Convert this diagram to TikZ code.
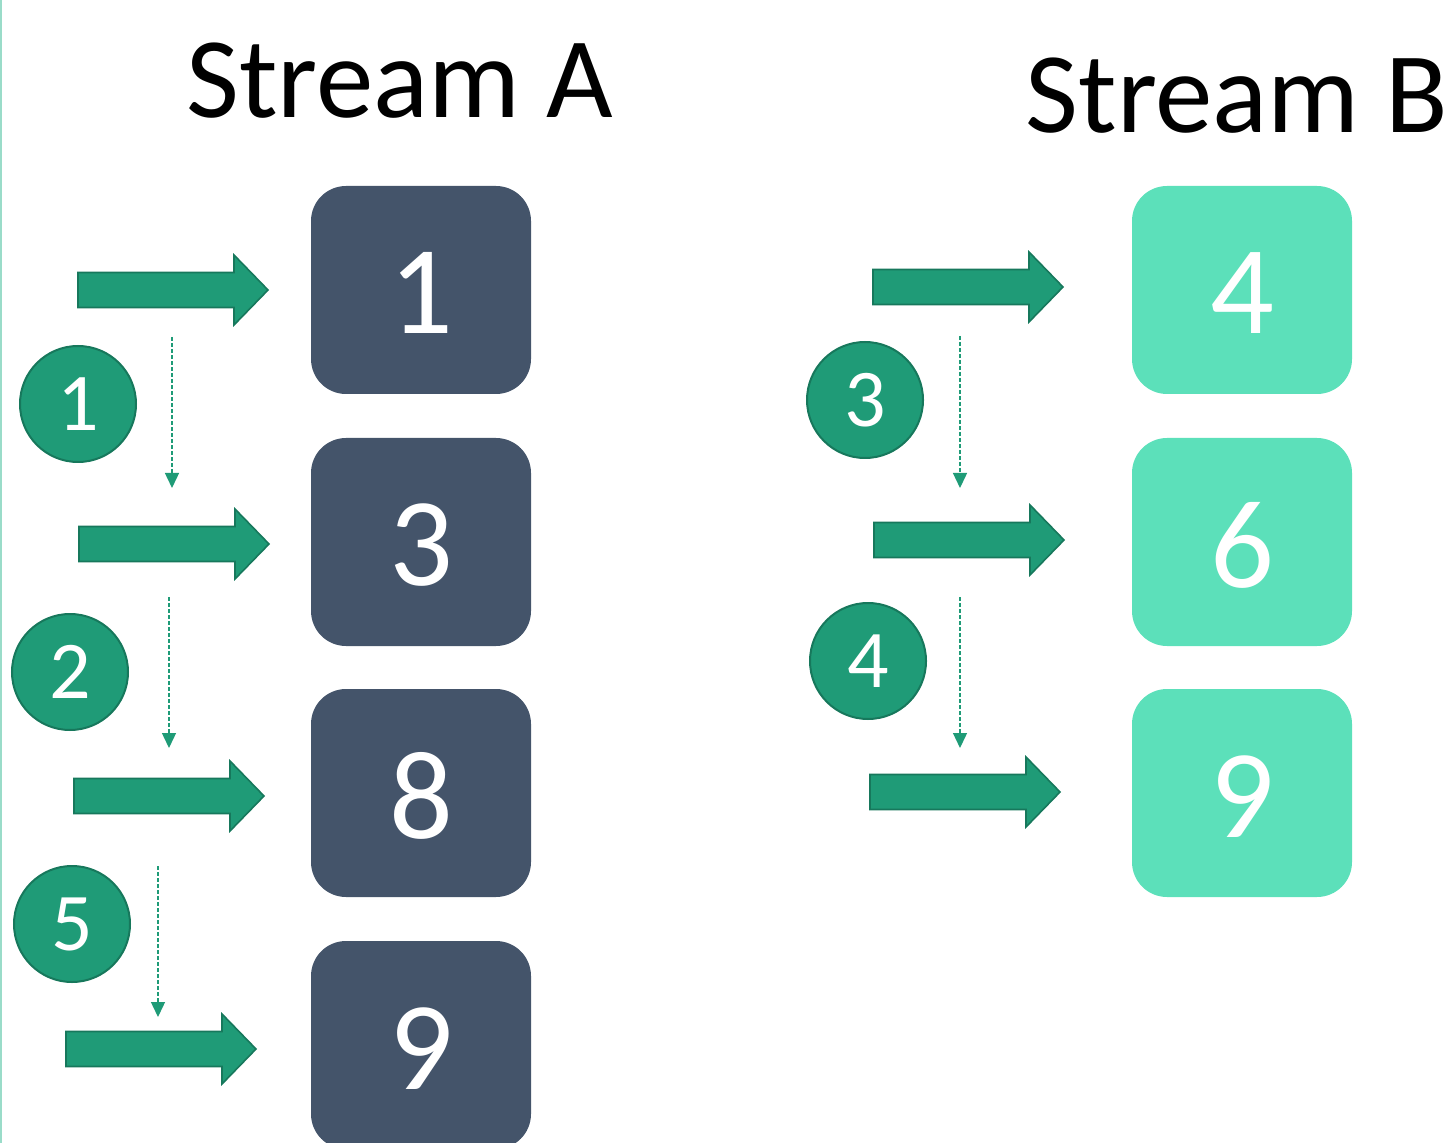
\documentclass[tikz,border=0pt]{standalone}
\usepackage{fontspec}
\setmainfont{Carlito}
\usetikzlibrary{arrows.meta}
\definecolor{slate}{HTML}{44546A}
\definecolor{mint}{HTML}{5CE0BA}
\definecolor{arrowgreen}{HTML}{1F9B77}
\definecolor{arrowedge}{HTML}{17785C}
\definecolor{edgeline}{HTML}{9ADCC9}
\tikzset{
  boxbase/.style={rounded corners=17.5pt, minimum width=110pt, minimum height=104pt, inner sep=0pt},
  boxa/.style={boxbase, fill=slate},
  boxb/.style={boxbase, fill=mint},
  boxnum/.style={text=white, font=\fontsize{63}{66}\selectfont, inner sep=0pt},
  stepnum/.style={circle, fill=arrowgreen, draw=arrowedge, line width=1pt, minimum size=58pt, inner sep=0pt, text=white, font=\fontsize{41}{44}\selectfont},
  title/.style={anchor=base, font=\fontsize{57.5}{60}\selectfont, inner sep=0pt},
  arrowfill/.style={fill=arrowgreen, draw=arrowedge, line width=0.8pt},
  dashlink/.style={draw=arrowgreen, line width=0.7pt, dash pattern=on 2pt off 1pt, -{Triangle[width=7pt,length=7.5pt]}},
  blockarrow/.pic={\path[arrowfill] (0,-17.5) -- (156,-17.5) -- (156,-35) -- (190,0) -- (156,35) -- (156,17.5) -- (0,17.5) -- cycle;}
}
\begin{document}
\begin{tikzpicture}[x=0.5pt,y=-0.5pt]
\useasboundingbox (0,0) rectangle (1454,1143);
\clip (0,0) rectangle (1454,1143);
\draw[edgeline, line width=1pt] (1,0) -- (1,1143);

% titles
\node[title] (ta) at (400,118) {Stream A};
\node[title] (tb) at (1237,133) {Stream B};

% stream A boxes
\node[boxa] (a1) at (421,290) {};
\node[boxa] (a3) at (421,542) {};
\node[boxa] (a8) at (421,793) {};
\node[boxa] (a9) at (421,1045) {};
\node[boxnum] (a1t) at ([yshift=-1.5pt]a1.center) {1};
\node[boxnum] (a3t) at ([yshift=-1.5pt]a3.center) {3};
\node[boxnum] (a8t) at ([yshift=-1.5pt]a8.center) {8};
\node[boxnum] (a9t) at ([yshift=-2pt]a9.center) {9};

% stream B boxes
\node[boxb] (b4) at (1242,290) {};
\node[boxb] (b6) at (1242,542) {};
\node[boxb] (b9) at (1242,793) {};
\node[boxnum] (b4t) at ([yshift=-1.5pt]b4.center) {4};
\node[boxnum] (b6t) at ([yshift=-1.5pt]b6.center) {6};
\node[boxnum] (b9t) at ([yshift=-2pt]b9.center) {9};

% block arrows
\pic at (78,290) {blockarrow};
\pic at (79,544) {blockarrow};
\pic at (74,796) {blockarrow};
\pic at (66,1049) {blockarrow};
\pic at (873,287) {blockarrow};
\pic at (874,540) {blockarrow};
\pic at (870,792) {blockarrow};

% step circles
\node[stepnum] (s1) at (78,404) {1};
\node[stepnum] (s2) at (70,672) {2};
\node[stepnum] (s5) at (72,924) {5};
\node[stepnum] (s3) at (865,400) {3};
\node[stepnum] (s4) at (868,661) {4};

% dashed links
\coordinate (d1s) at (172,337); \coordinate (d1e) at (172,488);
\coordinate (d2s) at (169,597); \coordinate (d2e) at (169,748);
\coordinate (d3s) at (158,866); \coordinate (d3e) at (158,1017);
\coordinate (d4s) at (960,336); \coordinate (d4e) at (960,488);
\coordinate (d5s) at (960,597); \coordinate (d5e) at (960,748);
\draw[dashlink] (d1s) -- (d1e);
\draw[dashlink] (d2s) -- (d2e);
\draw[dashlink] (d3s) -- (d3e);
\draw[dashlink] (d4s) -- (d4e);
\draw[dashlink] (d5s) -- (d5e);
\end{tikzpicture}
\end{document}
